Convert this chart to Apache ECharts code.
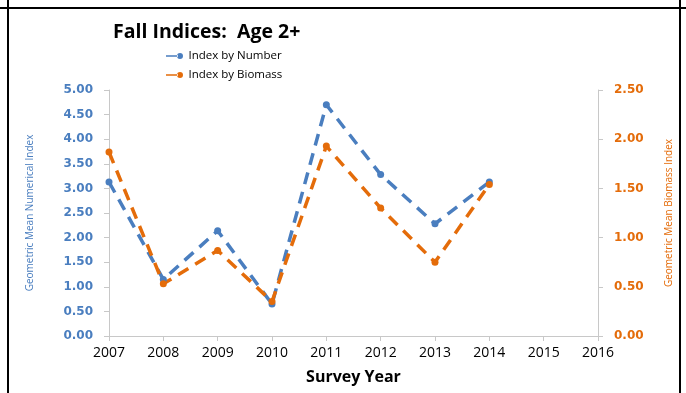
<!DOCTYPE html>
<html><head><meta charset="utf-8">
<script src="https://cdn.jsdelivr.net/npm/echarts@6/dist/echarts.min.js"></script>
<style>html,body{margin:0;padding:0;background:#fff}#c{width:686px;height:393px}</style>
</head><body><div id="c"></div>
<script>
const years = ['2007','2008','2009','2010','2011','2012','2013','2014','2015','2016'];
const indexByNumber = [3.13, 1.15, 2.14, 0.65, 4.70, 3.28, 2.28, 3.13];
const indexByBiomass = [1.87, 0.53, 0.87, 0.35, 1.93, 1.30, 0.75, 1.54];
const leftTicks = [0, 5, 0.5];
const rightTicks = [0, 2.5, 0.5];

const blue = '#4a7ebf', orange = '#e46c0a';
const font = '"Open Sans", sans-serif';
const iconPath = 'path://M0,2.2 L12,2.2 L12,3.8 L0,3.8 Z M11,3 A3,3 0 1,0 17,3 A3,3 0 1,0 11,3 Z';
const chart = echarts.init(document.getElementById('c'));
chart.setOption({
  animation: false,
  textStyle: {fontFamily: font},
  title: {text: 'Fall Indices:  Age 2+', left: 108, top: 17,
    textStyle: {fontSize: 19.5, fontWeight: 'bold', color: '#000', fontFamily: font}},
  legend: {orient: 'vertical', left: 161, top: 45, itemGap: 7, itemWidth: 18, itemHeight: 6,
    icon: iconPath,
    textStyle: {fontSize: 11.5, color: '#000', fontFamily: font},
    data: ['Index by Number', 'Index by Biomass']},
  grid: {left: 109, right: 88, top: 90, bottom: 57},
  xAxis: {type: 'category', data: years, boundaryGap: false,
    name: 'Survey Year', nameLocation: 'middle', nameGap: 33,
    nameTextStyle: {fontSize: 16, fontWeight: 'bold', color: '#000', fontFamily: font},
    axisLine: {lineStyle: {color: '#c8c8c8'}},
    axisTick: {alignWithLabel: true, length: 5, lineStyle: {color: '#c8c8c8'}},
    axisLabel: {fontSize: 14, color: '#000', margin: 10, fontFamily: font},
    splitLine: {show: false}},
  yAxis: [
    {type: 'value', min: leftTicks[0], max: leftTicks[1], interval: leftTicks[2], position: 'left',
     name: 'Geometric Mean Numerical Index', nameLocation: 'middle', nameGap: 74, nameRotate: 90,
     nameTextStyle: {fontSize: 10, color: blue, fontFamily: font},
     axisLine: {show: true, lineStyle: {color: '#c8c8c8'}},
     axisTick: {show: true, length: 5, lineStyle: {color: '#c8c8c8'}},
     axisLabel: {formatter: v => v.toFixed(2), fontSize: 12, fontWeight: 'bold', color: blue, margin: 16, fontFamily: '"DejaVu Sans", sans-serif'},
     splitLine: {show: false}},
    {type: 'value', min: rightTicks[0], max: rightTicks[1], interval: rightTicks[2], position: 'right',
     name: 'Geometric Mean Biomass Index', nameLocation: 'middle', nameGap: 66, nameRotate: 90,
     nameTextStyle: {fontSize: 10, color: orange, fontFamily: font},
     axisLine: {show: true, lineStyle: {color: '#c8c8c8'}},
     axisTick: {show: true, length: 5, lineStyle: {color: '#c8c8c8'}},
     axisLabel: {formatter: v => v.toFixed(2), fontSize: 12, fontWeight: 'bold', color: orange, margin: 16, fontFamily: '"DejaVu Sans", sans-serif'},
     splitLine: {show: false}}
  ],
  series: [
    {name: 'Index by Number', type: 'line', yAxisIndex: 0, data: indexByNumber,
     symbol: 'circle', symbolSize: 7, itemStyle: {color: blue},
     lineStyle: {color: blue, width: 3.5, type: [12, 8]}},
    {name: 'Index by Biomass', type: 'line', yAxisIndex: 1, data: indexByBiomass,
     symbol: 'circle', symbolSize: 7, itemStyle: {color: orange},
     lineStyle: {color: orange, width: 3.5, type: [12, 8]}}
  ],
  graphic: [
    {type: 'line', shape: {x1: 0, y1: 8, x2: 686, y2: 8}, style: {stroke: '#000', lineWidth: 2}},
    {type: 'line', shape: {x1: 8, y1: 0, x2: 8, y2: 393}, style: {stroke: '#000', lineWidth: 2}},
    {type: 'line', shape: {x1: 680, y1: 0, x2: 680, y2: 393}, style: {stroke: '#000', lineWidth: 2}}
  ]
});
</script></body></html>
